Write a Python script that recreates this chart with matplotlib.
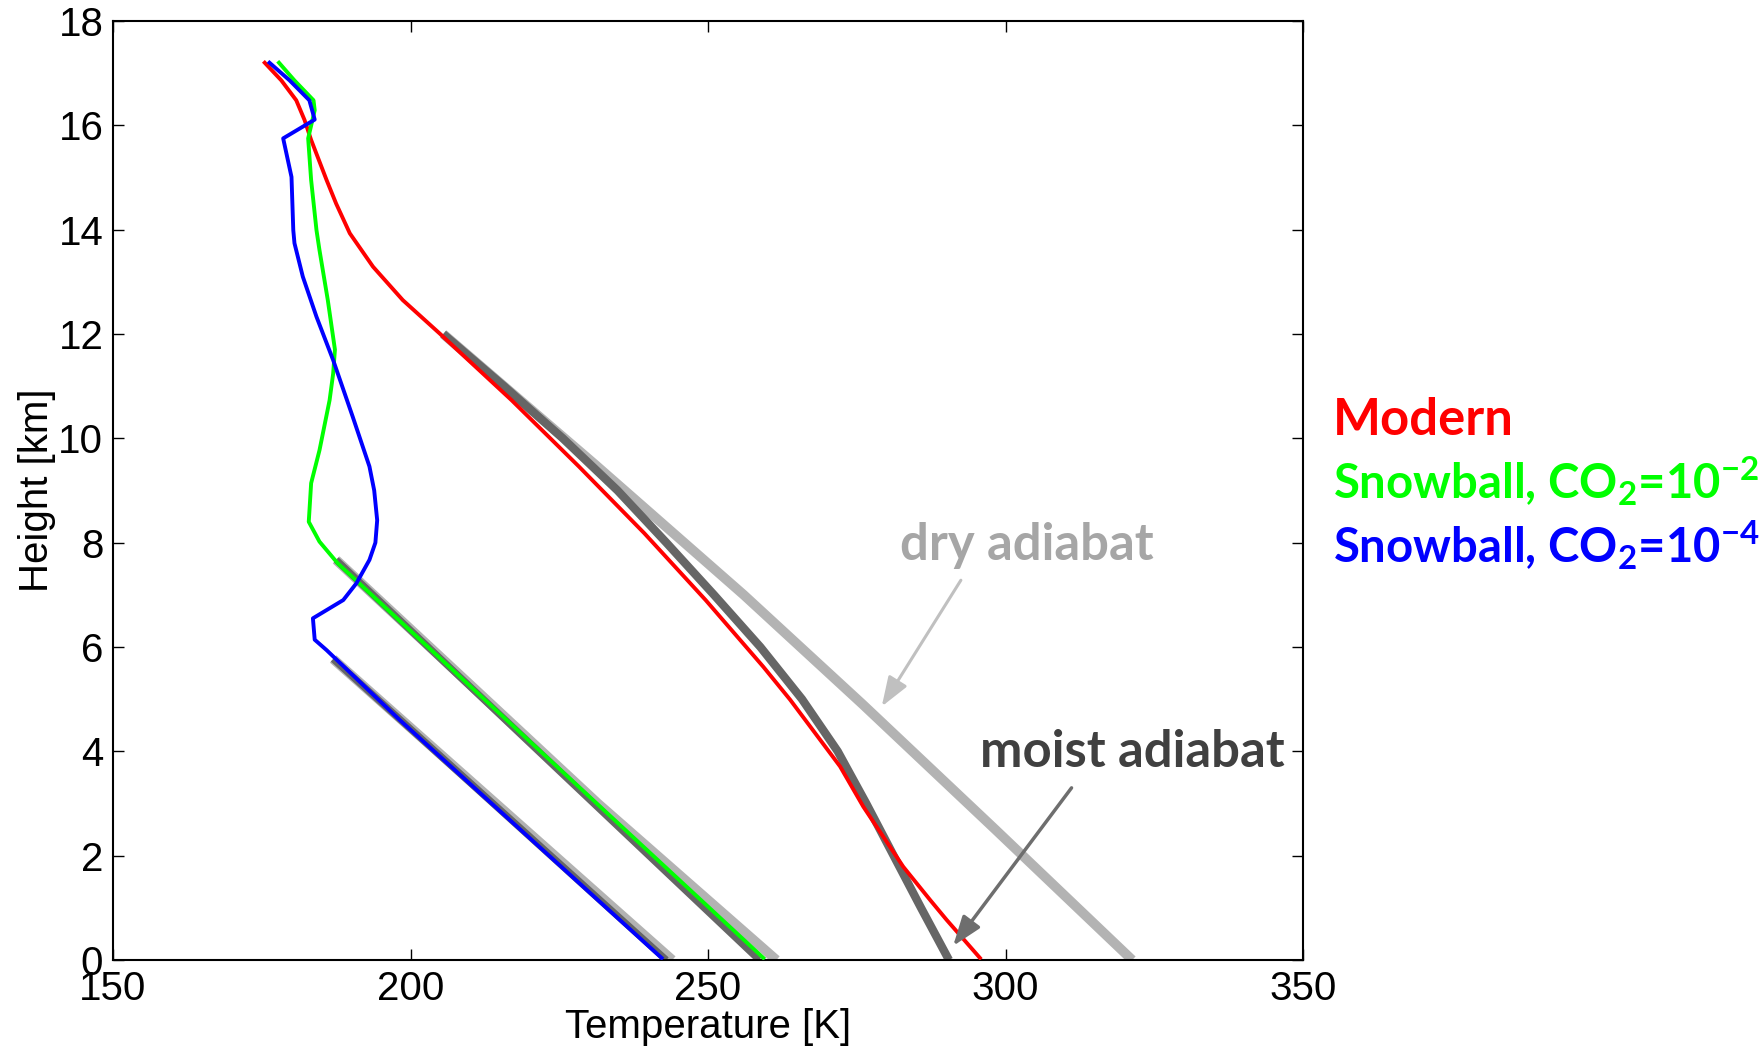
import matplotlib
matplotlib.use("Agg")
import matplotlib.pyplot as plt

# ---- data (T in K, z in km) ----
modern_T = [175.5, 178.3, 180.8, 182.2, 183.3, 185.9, 187.5, 189.8, 193.7, 198.7, 204.9,
            217.0, 228.3, 239.3, 249.6, 259.3, 263.8, 272.2, 276.1, 282.8, 287.3, 290.1, 295.7]
modern_z = [17.2, 16.86, 16.48, 16.1, 15.72, 14.95, 14.5, 13.93, 13.29, 12.65, 12.01,
            10.73, 9.46, 8.18, 6.9, 5.62, 4.99, 3.71, 2.94, 1.79, 1.155, 0.77, 0.04]

snow2_T = [177.9, 180.5, 183.7, 183.9, 182.8, 183.3, 184.2, 184.7, 186.1, 187.3, 187.0,
           186.4, 184.7, 183.3, 182.9, 184.7, 187.8, 259.3]
snow2_z = [17.2, 16.86, 16.48, 16.29, 15.75, 14.95, 13.99, 13.61, 12.65, 11.7, 11.24,
           10.73, 9.77, 9.14, 8.40, 8.02, 7.6, 0.04]

snow4_T = [176.3, 179.7, 183.0, 183.9, 178.6, 180.0, 180.3, 180.5, 181.9, 184.2, 187.0,
           190.3, 193.1, 193.9, 194.4, 194.1, 193.1, 190.9, 188.7, 183.6, 183.9, 185.9, 198.2, 242.2]
snow4_z = [17.2, 16.86, 16.48, 16.11, 15.75, 15.01, 13.99, 13.74, 13.1, 12.33, 11.5,
           10.41, 9.46, 9.0, 8.43, 8.0, 7.67, 7.22, 6.9, 6.55, 6.14, 5.94, 4.6, 0.04]

# adiabats
moist_modern_T = [205.5, 215.7, 225.6, 234.8, 243.0, 251.0, 258.8, 265.8, 271.8, 276.6,
                  281.2, 285.8, 290.5]
moist_modern_z = [12.0, 11.0, 10.0, 9.0, 8.0, 7.0, 6.0, 5.0, 4.0, 3.0, 2.0, 1.0, 0.0]
dry_modern_T = [205.5, 231.0, 256.0, 276.0, 298.3, 321.3]
dry_modern_z = [12.0, 9.5, 7.0, 4.9, 2.5, 0.0]

moist_snow2_T = [187.5, 258.6]
moist_snow2_z = [7.67, 0.0]
dry_snow2_T = [187.5, 231.5, 261.5]
dry_snow2_z = [7.67, 3.0, 0.0]

moist_snow4_T = [187.0, 243.0]
moist_snow4_z = [5.77, 0.0]
dry_snow4_T = [187.0, 244.0]
dry_snow4_z = [5.77, 0.0]

labels = ["Modern", "Snowball, CO$_2$=10$^{-2}$", "Snowball, CO$_2$=10$^{-4}$"]
colors = ["#FF0000", "#00FF00", "#0000FF"]

xticks = [150, 200, 250, 300, 350]
yticks = [0, 2, 4, 6, 8, 10, 12, 14, 16, 18]

# ---- styling ----
plt.rcParams["font.family"] = ["Liberation Sans", "DejaVu Sans"]
plt.rcParams["mathtext.fontset"] = "custom"
plt.rcParams["mathtext.rm"] = "Lato:bold"
plt.rcParams["mathtext.it"] = "Lato:bold"
plt.rcParams["mathtext.bf"] = "Lato:bold"
plt.rcParams["mathtext.sf"] = "Lato:bold"

DRY = "#B3B3B3"
MOIST = "#666666"

fig = plt.figure(figsize=(17.61, 10.59), dpi=100)
ax = fig.add_axes([113 / 1761, 1 - 960 / 1059, (1303 - 113) / 1761, (960 - 21) / 1059])

for T, z in [(dry_modern_T, dry_modern_z), (dry_snow2_T, dry_snow2_z), (dry_snow4_T, dry_snow4_z)]:
    ax.plot(T, z, color=DRY, lw=7.0, solid_capstyle="butt", solid_joinstyle="round", zorder=1)
for T, z, w in [(moist_modern_T, moist_modern_z, 6.0), (moist_snow2_T, moist_snow2_z, 5.0),
                (moist_snow4_T, moist_snow4_z, 5.0)]:
    ax.plot(T, z, color=MOIST, lw=w, solid_capstyle="butt", solid_joinstyle="round", zorder=2)

for T, z, c in [(modern_T, modern_z, colors[0]), (snow2_T, snow2_z, colors[1]),
                (snow4_T, snow4_z, colors[2])]:
    ax.plot(T, z, color=c, lw=2.8, solid_joinstyle="round", zorder=3)

ax.set_xlim(150, 350)
ax.set_ylim(0, 18)
ax.set_xticks(xticks)
ax.set_yticks(yticks)
ax.tick_params(direction="in", length=8, width=1.0, labelsize=29, top=True, right=True,
               pad=7)
for s in ax.spines.values():
    s.set_linewidth(1.5)
ax.set_xlabel("Temperature [K]", fontsize=29, labelpad=0)
ax.set_ylabel("Height [km]", fontsize=29, labelpad=1.5)

# annotations
ax.text(303.6, 7.67, "dry adiabat", color="#A6A6A6", fontsize=36.5, fontfamily="Lato",
        fontweight="bold", ha="center", va="baseline", zorder=5)
ax.text(321.3, 3.70, "moist adiabat", color="#404040", fontsize=36.5, fontfamily="Lato",
        fontweight="bold", ha="center", va="baseline", zorder=5)
ax.annotate("", xy=(279.2, 4.86), xytext=(292.5, 7.28),
            arrowprops=dict(arrowstyle="-|>,head_length=0.5,head_width=0.18", mutation_scale=36,
                            color="#C0C0C0", lw=2.2, shrinkA=0, shrinkB=0), zorder=5)
ax.annotate("", xy=(291.2, 0.27), xytext=(311.1, 3.30),
            arrowprops=dict(arrowstyle="-|>,head_length=0.5,head_width=0.18", mutation_scale=36,
                            color="#6E6E6E", lw=2.5, shrinkA=0, shrinkB=0), zorder=5)

# legend text
for lab, c, yb, fs in zip(labels, colors, [435, 498, 562], [36.5, 34, 34]):
    fig.text(1333 / 1761, 1 - yb / 1059, lab, color=c, fontsize=fs, fontfamily="Lato",
             fontweight="bold", ha="left", va="baseline")

fig.savefig("out.png", dpi=100, facecolor="white")
